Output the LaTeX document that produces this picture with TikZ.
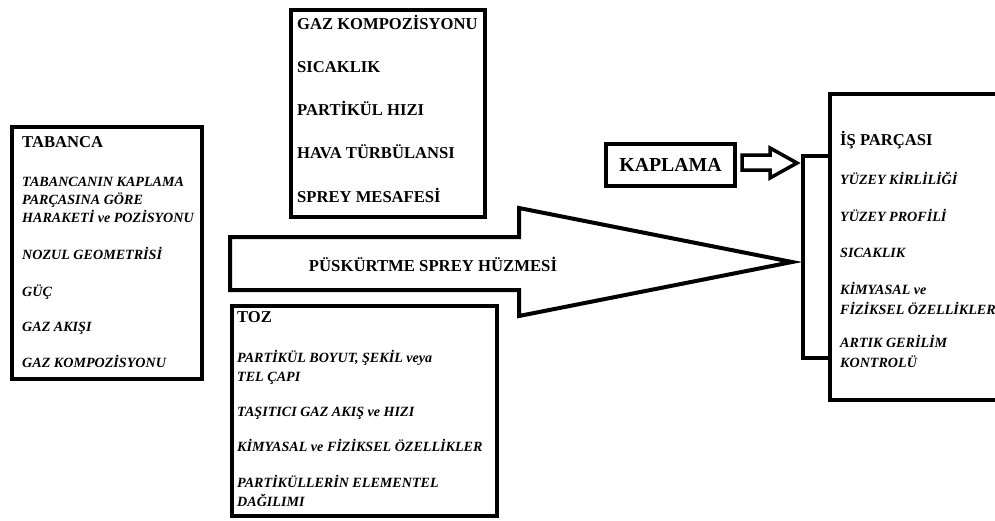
\documentclass[tikz,border=0pt]{standalone}
\usepackage{fontspec}
\setmainfont{Liberation Serif}
\begin{document}
\begin{tikzpicture}[x=1pt,y=-1pt,line join=miter,
  frame/.style={draw=black,line width=4pt,inner sep=0pt,anchor=north west},
  edge/.style={draw=black,line width=4pt},
  hd/.style={anchor=base west,inner sep=0pt,font=\fontsize{16.6}{19}\selectfont\bfseries},
  it/.style={anchor=base west,inner sep=0pt,font=\fontsize{14.1}{18}\selectfont\bfseries\itshape}]
\useasboundingbox[fill=white] (0,0) rectangle (995,520);

% --- boxes ---
\node[frame,minimum width=190pt,minimum height=252pt] (tabanca) at (10,125) {};
\node[frame,minimum width=194pt,minimum height=207pt] (gaz) at (289,8) {};
\node[frame,minimum width=265pt,minimum height=210pt] (toz) at (230,304) {};
\node[frame,minimum width=129pt,minimum height=42pt] (kaplama) at (604,142) {};
\node[font=\fontsize{19.8}{22}\selectfont\bfseries,inner sep=0pt] (kaplamatxt) at (kaplama.center) {KAPLAMA};

% work piece: open to the right
\coordinate (wpTop) at (830,94);
\coordinate (wpBot) at (830,400);
\draw[edge] (995,94) -- (wpTop) -- (wpBot) -- (995,400);

% bracket in front of the work piece
\coordinate (brTop) at (803,156);
\coordinate (brBot) at (803,358);
\draw[edge] (wpTop |- brTop) -- (brTop) -- (brBot) -- (wpBot |- brBot);

% --- spray beam (large block arrow) ---
\coordinate (beamTip) at (792,262);
\draw[edge] (230,237) -- (519,237) -- (519,208) -- (beamTip) -- (519,316) -- (519,290) -- (230,290) -- cycle;
\node[font=\fontsize{16.7}{19}\selectfont\bfseries,inner sep=0pt] (beam) at (433,264) {PÜSKÜRTME SPREY HÜZMESİ};

% --- small block arrow from the coating to the bracket ---
\coordinate (smTip) at (797,163);
\draw[line width=3.5pt] (742,155) -- (770,155) -- (770,148) -- (smTip) -- (770,178) -- (770,170) -- (742,170) -- cycle;

% --- TABANCA texts ---
\node[hd] (t0) at (22,147) {TABANCA};
\node[it] (t1) at (22,186.5) {TABANCANIN KAPLAMA};
\node[it] (t2) at (22,204.5) {PARÇASINA GÖRE};
\node[it] (t3) at (22,222.5) {HARAKETİ ve POZİSYONU};
\node[it] (t4) at (22,259.5) {NOZUL GEOMETRİSİ};
\node[it] (t5) at (22,296.5) {GÜÇ};
\node[it] (t6) at (22,331.5) {GAZ AKIŞI};
\node[it] (t7) at (22,367.5) {GAZ KOMPOZİSYONU};

% --- gas / process texts ---
\node[hd] (g1) at (297,29) {GAZ KOMPOZİSYONU};
\node[hd] (g2) at (297,72) {SICAKLIK};
\node[hd] (g3) at (297,115) {PARTİKÜL HIZI};
\node[hd] (g4) at (297,158) {HAVA TÜRBÜLANSI};
\node[hd] (g5) at (297,202) {SPREY MESAFESİ};

% --- TOZ texts ---
\node[hd] (p0) at (237,322) {TOZ};
\node[it] (p1) at (237,362.5) {PARTİKÜL BOYUT, ŞEKİL veya};
\node[it] (p2) at (237,381.5) {TEL ÇAPI};
\node[it] (p3) at (237,416.5) {TAŞITICI GAZ AKIŞ ve HIZI};
\node[it] (p4) at (237,451.5) {KİMYASAL ve FİZİKSEL ÖZELLİKLER};
\node[it] (p5) at (237,487.5) {PARTİKÜLLERİN ELEMENTEL};
\node[it] (p6) at (237,506.5) {DAĞILIMI};

% --- work piece texts ---
\node[hd] (w0) at (840,145.5) {İŞ PARÇASI};
\node[it] (w1) at (840,184.5) {YÜZEY KİRLİLİĞİ};
\node[it] (w2) at (840,221.5) {YÜZEY PROFİLİ};
\node[it] (w3) at (840,257.5) {SICAKLIK};
\node[it] (w4) at (840,294.5) {KİMYASAL ve};
\node[it] (w5) at (840,314.5) {FİZİKSEL ÖZELLİKLER};
\node[it] (w6) at (840,347.5) {ARTIK GERİLİM};
\node[it] (w7) at (840,367.5) {KONTROLÜ};
\end{tikzpicture}
\end{document}
